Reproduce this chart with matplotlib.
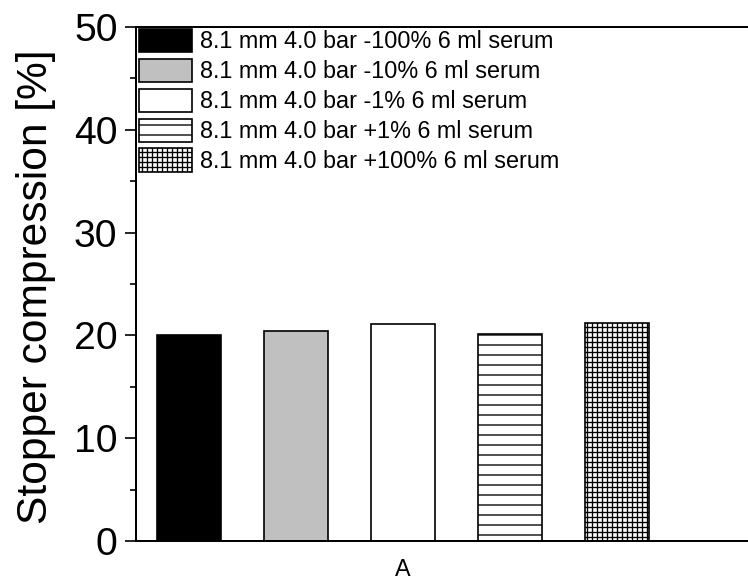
import matplotlib
matplotlib.use("Agg")
import matplotlib.pyplot as plt
from matplotlib.ticker import MultipleLocator

plt.rcParams['font.family'] = ['Liberation Sans', 'DejaVu Sans']
plt.rcParams['hatch.linewidth'] = 0.8

labels = ["8.1 mm 4.0 bar -100% 6 ml serum",
          "8.1 mm 4.0 bar -10% 6 ml serum",
          "8.1 mm 4.0 bar -1% 6 ml serum",
          "8.1 mm 4.0 bar +1% 6 ml serum",
          "8.1 mm 4.0 bar +100% 6 ml serum"]
values = [20.0, 20.45, 21.1, 20.1, 21.2]
positions = [1, 2, 3, 4, 5]
category = "A"

colors = ["black", "#c0c0c0", "white", "white", "white"]
hatches = [None, None, None, "--", "++++"]

dpi = 120
fig = plt.figure(figsize=(748 / dpi, 580 / dpi), dpi=dpi)
ax = fig.add_axes([136 / 748, 39 / 580, (760 - 136) / 748, (541 - 27) / 580])

for p, v, c, h, lab in zip(positions, values, colors, hatches, labels):
    ax.bar(p, v, width=0.6, color=c, edgecolor="black", linewidth=1.0,
           hatch=h, label=lab)

ax.set_xlim(0.505, 0.505 + 624 / 107)
ax.set_ylim(0, 50)
ax.set_xticks([3])
ax.set_xticklabels([category], fontsize=14)
ax.tick_params(axis='x', length=0, pad=10.5)
ax.yaxis.set_major_locator(MultipleLocator(10))
ax.yaxis.set_minor_locator(MultipleLocator(5))
ax.tick_params(axis='y', which='major', direction='out', length=6.6, width=1.0,
               labelsize=23.5, pad=4.5)
ax.tick_params(axis='y', which='minor', direction='out', length=3.5, width=1.0)
ax.set_ylabel("Stopper compression [%]", fontsize=25.5)
ax.yaxis.set_label_coords(-0.128, 0.494)

for s in ax.spines.values():
    s.set_linewidth(1.2)

leg = ax.legend(loc="upper left", bbox_to_anchor=(3 / 624, 1 - 2 / 514),
                frameon=False, fontsize=14, borderpad=0, borderaxespad=0,
                handlelength=2.25, handleheight=1.15, handletextpad=0.36,
                labelspacing=0.23)

fig.savefig("out.png", dpi=dpi)
